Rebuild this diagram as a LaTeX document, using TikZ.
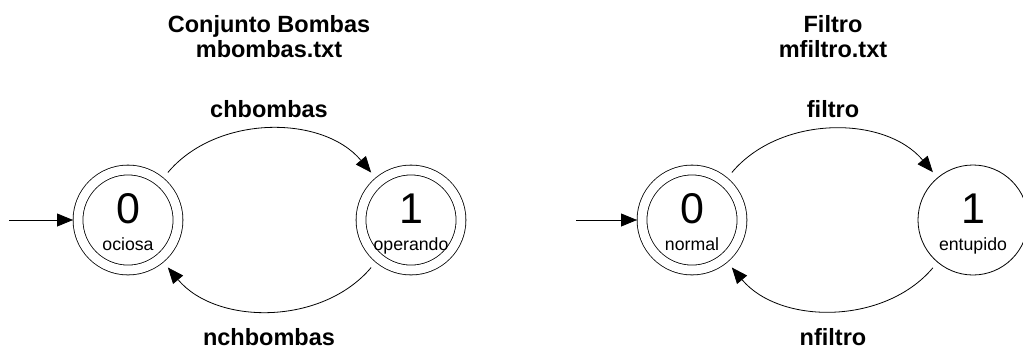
\documentclass[tikz,border=0pt]{standalone}
\usepackage{fontspec}
\setmainfont{Liberation Sans}
\usetikzlibrary{arrows.meta}

\begin{document}
\begin{tikzpicture}[x=1pt,y=1pt,
   state/.style={circle,draw,line width=0.8pt,minimum size=110pt,inner sep=0pt},
   accepting/.style={double,double distance=9pt,minimum size=100pt,outer sep=5pt},
   digit/.style={anchor=base,inner sep=0pt,font=\fontsize{43}{43}\selectfont},
   statename/.style={anchor=base,inner sep=0pt,font=\fontsize{17.7}{18}\selectfont},
   title/.style={anchor=base,inner sep=0pt,font=\bfseries\fontsize{23.5}{24}\selectfont},
   trans/.style={line width=0.8pt,-{Triangle[length=16pt,width=13pt]},shorten <=7pt,shorten >=7pt}]
   \useasboundingbox (0,0) rectangle (1023,-349);

   \node[title] (bt1) at (269,-32) {Conjunto Bombas};
   \node[title] (bt2) at (269,-57) {mbombas.txt};
   \node[state,accepting] (s0) at (128,-220) {};
   \node[state,accepting] (s1) at (411,-220) {};
   \node[digit] (s0d) at ([yshift=-3pt]s0.center) {0};
   \node[statename] (s0n) at ([yshift=-30pt]s0.center) {ociosa};
   \node[digit] (s1d) at ([yshift=-3pt]s1.center) {1};
   \node[statename] (s1n) at ([yshift=-30pt]s1.center) {operando};
   \coordinate (s0i) at (9,-220);
   \draw[trans,shorten <=0pt,shorten >=0pt] (s0i) -- (s0);
   \draw[trans] (s0) to[bend left=50] (s1);
   \draw[trans] (s1) to[bend left=50] (s0);
   \node[title] (be1) at (269,-117) {chbombas};
   \node[title] (be2) at (269,-345) {nchbombas};

   \node[title] (ft1) at (833,-32) {Filtro};
   \node[title] (ft2) at (833,-57) {mfiltro.txt};
   \node[state,accepting] (f0) at (692,-220) {};
   \node[state] (f1) at (973,-220) {};
   \node[digit] (f0d) at ([yshift=-3pt]f0.center) {0};
   \node[statename] (f0n) at ([yshift=-30pt]f0.center) {normal};
   \node[digit] (f1d) at ([yshift=-3pt]f1.center) {1};
   \node[statename] (f1n) at ([yshift=-30pt]f1.center) {entupido};
   \coordinate (f0i) at (576,-220);
   \draw[trans,shorten <=0pt,shorten >=0pt] (f0i) -- (f0);
   \draw[trans] (f0) to[bend left=50] (f1);
   \draw[trans] (f1) to[bend left=50] (f0);
   \node[title] (fe1) at (833,-117) {filtro};
   \node[title] (fe2) at (833,-345) {nfiltro};
\end{tikzpicture}
\end{document}
